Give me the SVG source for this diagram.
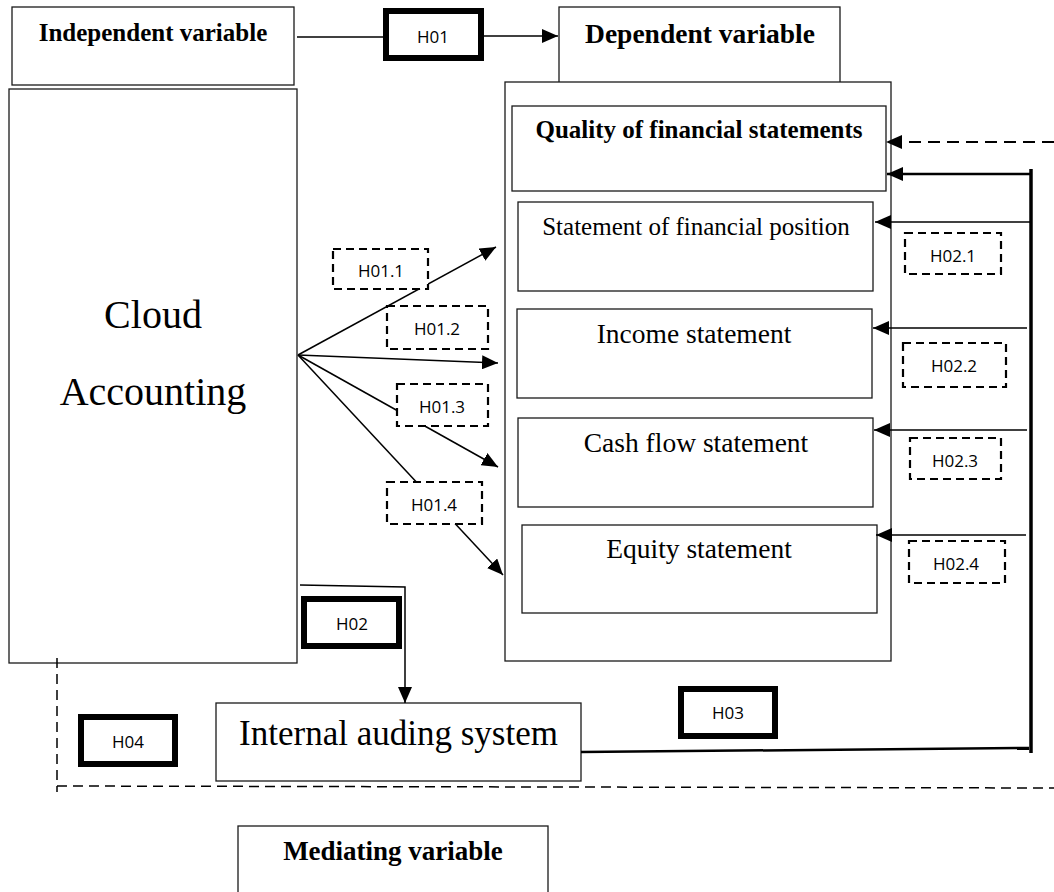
<svg xmlns="http://www.w3.org/2000/svg" width="1054" height="892" viewBox="0 0 1054 892">
<style>
.box{fill:#fff;stroke:#1a1a1a;stroke-width:1.3}
.thick{fill:#fff;stroke:#000;stroke-width:6}
.dbox{fill:#fff;stroke:#000;stroke-width:2.2;stroke-dasharray:8 5}
.ln{fill:none;stroke:#000;stroke-width:1.5}
.lnb{fill:none;stroke:#000;stroke-width:2.5}
.dash{fill:none;stroke:#000;stroke-width:1.5;stroke-dasharray:10 6}
.dash2{fill:none;stroke:#000;stroke-width:2;stroke-dasharray:12 7}
.serif{font-family:"Liberation Serif","Times New Roman",serif;fill:#000;text-anchor:middle}
.b{font-weight:bold}
.h{font-family:"Open Sans","Liberation Sans",sans-serif;font-size:17px;fill:#000;text-anchor:middle;dominant-baseline:central}
</style>
<defs>
<marker id="ah" markerUnits="userSpaceOnUse" markerWidth="16" markerHeight="14" viewBox="0 0 16 14" refX="16" refY="7" orient="auto">
<path d="M0,0 L16,7 L0,14 Z" fill="#000"/>
</marker>
</defs>

<g id="independent">
<rect class="box" x="12" y="7" width="282" height="78"/>
<text class="serif b" x="153" y="41" font-size="25">Independent variable</text>
</g>
<g id="dependent">
<rect class="box" x="559" y="7" width="281" height="80"/>
<text class="serif b" x="700" y="43" font-size="27.5">Dependent variable</text>
</g>
<g id="cloud">
<rect class="box" x="9" y="89" width="288" height="574"/>
<text class="serif" x="153" y="328" font-size="40">Cloud</text>
<text class="serif" x="153" y="405" font-size="40">Accounting</text>
</g>
<g id="container">
<rect class="box" x="505" y="82" width="386" height="579"/>
</g>
<g id="quality">
<rect class="box" x="512" y="106" width="374" height="85"/>
<text class="serif b" x="699" y="138" font-size="25">Quality of financial statements</text>
</g>
<g id="sofp">
<rect class="box" x="518" y="202" width="355" height="89"/>
<text class="serif" x="696" y="235" font-size="25">Statement of financial position</text>
</g>
<g id="income">
<rect class="box" x="517" y="309" width="355" height="89"/>
<text class="serif" x="694" y="343" font-size="27.5">Income statement</text>
</g>
<g id="cash">
<rect class="box" x="518" y="418" width="355" height="89"/>
<text class="serif" x="696" y="452" font-size="27.5">Cash flow statement</text>
</g>
<g id="equity">
<rect class="box" x="522" y="525" width="355" height="88"/>
<text class="serif" x="699" y="558" font-size="27.5">Equity statement</text>
</g>
<g id="internal">
<rect class="box" x="216" y="703" width="365" height="78"/>
<text class="serif" x="398.5" y="745" font-size="35">Internal auding system</text>
</g>
<g id="mediating">
<rect class="box" x="238" y="826" width="310" height="80"/>
<text class="serif b" x="393" y="860" font-size="27">Mediating variable</text>
</g>

<g id="connectors">
<line class="ln" x1="297" y1="37" x2="385" y2="37"/>
<line class="ln" x1="484" y1="36" x2="558" y2="36" marker-end="url(#ah)"/>
<line class="ln" x1="298" y1="355" x2="496" y2="247" marker-end="url(#ah)"/>
<line class="ln" x1="298" y1="355" x2="498" y2="363" marker-end="url(#ah)"/>
<line class="ln" x1="298" y1="355" x2="498" y2="467" marker-end="url(#ah)"/>
<line class="ln" x1="298" y1="355" x2="503" y2="575" marker-end="url(#ah)"/>
<line class="dash2" x1="1054" y1="142" x2="886" y2="142" marker-end="url(#ah)"/>
<line class="lnb" x1="1031" y1="174" x2="887" y2="174" marker-end="url(#ah)"/>
<line class="ln" x1="1030" y1="222" x2="875" y2="222" marker-end="url(#ah)"/>
<line class="ln" x1="1027" y1="328" x2="873" y2="328" marker-end="url(#ah)"/>
<line class="ln" x1="1027" y1="430" x2="874" y2="430" marker-end="url(#ah)"/>
<line class="ln" x1="1026" y1="535" x2="876" y2="535" marker-end="url(#ah)"/>
<line x1="1031" y1="169" x2="1031" y2="753" stroke="#000" stroke-width="3.5"/>
<line class="lnb" x1="581" y1="752" x2="1029" y2="748"/>
<polyline class="ln" points="300,585 405,587 405,703" marker-end="url(#ah)"/>
<line class="dash" x1="57" y1="658" x2="57" y2="792"/>
<line class="dash" x1="57" y1="786" x2="1054" y2="788"/>
</g>

<g id="h01">
<rect class="thick" x="386" y="11" width="95" height="47"/>
<text class="h" x="433" y="36">H01</text>
</g>
<g id="h011"><rect class="dbox" x="333" y="249" width="95" height="40"/><text class="h" x="381" y="270">H01.1</text></g>
<g id="h012"><rect class="dbox" x="387" y="306" width="101" height="43"/><text class="h" x="437" y="328">H01.2</text></g>
<g id="h013"><rect class="dbox" x="397" y="384" width="91" height="42"/><text class="h" x="442" y="406">H01.3</text></g>
<g id="h014"><rect class="dbox" x="387" y="482" width="95" height="42"/><text class="h" x="434" y="504">H01.4</text></g>

<g id="h021"><rect class="dbox" x="905" y="233" width="96" height="41"/><text class="h" x="953" y="255">H02.1</text></g>
<g id="h022"><rect class="dbox" x="903" y="343" width="103" height="44"/><text class="h" x="954" y="365">H02.2</text></g>
<g id="h023"><rect class="dbox" x="910" y="438" width="91" height="41"/><text class="h" x="955" y="460">H02.3</text></g>
<g id="h024"><rect class="dbox" x="909" y="541" width="96" height="42"/><text class="h" x="956" y="563">H02.4</text></g>

<g id="h02">
<rect class="thick" x="304" y="599" width="95" height="47"/>
<text class="h" x="352" y="623">H02</text>
</g>
<g id="h03">
<rect class="thick" x="681" y="689" width="94" height="47"/>
<text class="h" x="728" y="712">H03</text>
</g>
<g id="h04">
<rect class="thick" x="81" y="717" width="94" height="47"/>
<text class="h" x="128" y="741">H04</text>
</g>
</svg>
